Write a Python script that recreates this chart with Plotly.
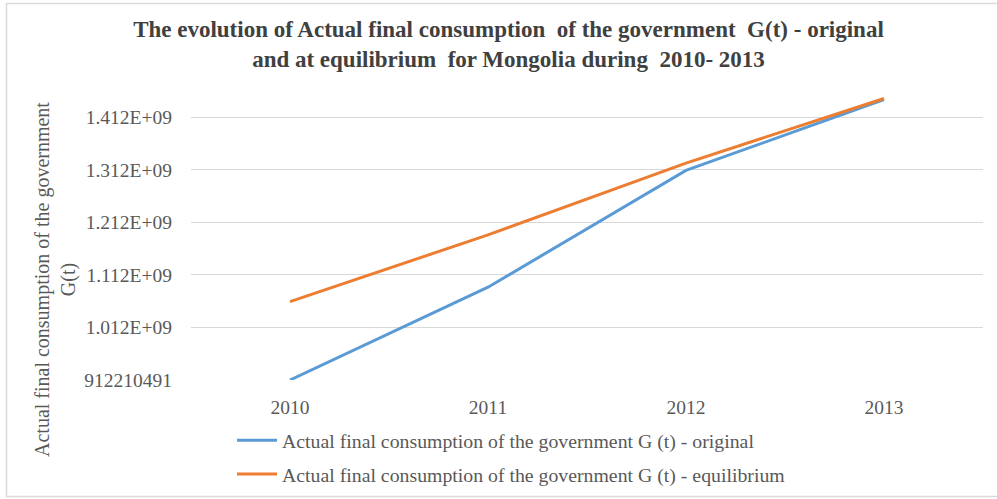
import plotly.graph_objects as go

years = ["2010", "2011", "2012", "2013"]
original = [912210491, 1.0888e9, 1.311e9, 1.446e9]
equilibrium = [1.0613e9, 1.1884e9, 1.3250e9, 1.4480e9]
tick_vals = [912210491, 1.012210491e9, 1.112210491e9, 1.212210491e9, 1.312210491e9, 1.412210491e9]
tick_text = ["912210491", "1.012E+09", "1.112E+09", "1.212E+09", "1.312E+09", "1.412E+09"]

W, H = 997, 499
L, R, T, B = 191, 14, 91, 119
PW, PH = W - L - R, H - T - B

def px(x):
    return (x - L) / PW

def py(y):
    return (H - B - y) / PH

FONT = "Liberation Serif, Times New Roman, serif"

fig = go.Figure()
fig.add_trace(go.Scatter(
    x=years, y=original, mode="lines",
    name="Actual final consumption of the government G (t) - original",
    line=dict(color="#5B9BD5", width=3), legendgroup="a"))
fig.add_trace(go.Scatter(
    x=years, y=equilibrium, mode="lines",
    name="Actual final consumption of the government G (t) - equilibrium",
    line=dict(color="#ED7D31", width=3), legendgroup="b"))

fig.update_layout(
    width=W, height=H,
    margin=dict(l=L, r=R, t=T, b=B, autoexpand=False),
    paper_bgcolor="white", plot_bgcolor="white",
    font=dict(family=FONT, color="#595959", size=19.5),
    title=dict(
        text="The evolution of Actual final consumption  of the government  G(t) - original<br>and at equilibrium  for Mongolia during  2010- 2013",
        x=0.51, xanchor="center", y=1 - 37 / H, yanchor="middle",
        font=dict(family=FONT, size=23, color="#404040", weight="bold")),
    xaxis=dict(type="category", range=[-0.5, 3.5], showgrid=False, showline=False,
               ticks="", tickfont=dict(size=19.5), ticklabelstandoff=13),
    yaxis=dict(range=[912210491, 912210491 + 5.5e8], tickvals=tick_vals, ticktext=tick_text,
               showgrid=True, gridcolor="#D9D9D9", gridwidth=1, zeroline=False,
               showline=False, ticks="", tickfont=dict(size=19.5), ticklabelstandoff=18),
    showlegend=True,
    legend=dict(x=px(232), y=py(421), xanchor="left", yanchor="top",
                orientation="v", tracegroupgap=5, itemwidth=40, font=dict(size=19.8),
                bgcolor="rgba(0,0,0,0)"),
    annotations=[dict(
        text="Actual final consumption of the government<br>G(t)",
        textangle=-90, xref="paper", yref="paper",
        x=px(55), y=py(280), xanchor="center", yanchor="middle",
        showarrow=False, font=dict(family=FONT, size=20, color="#595959"))],
    shapes=[dict(type="rect", xref="paper", yref="paper",
                 x0=px(6.5), x1=px(1005), y0=py(496.5), y1=py(3.5),
                 line=dict(color="#D9D9D9", width=1.5), layer="below")],
)

fig.write_html("out.html", config={"displayModeBar": False},
               post_script="document.body.style.margin='0';")
